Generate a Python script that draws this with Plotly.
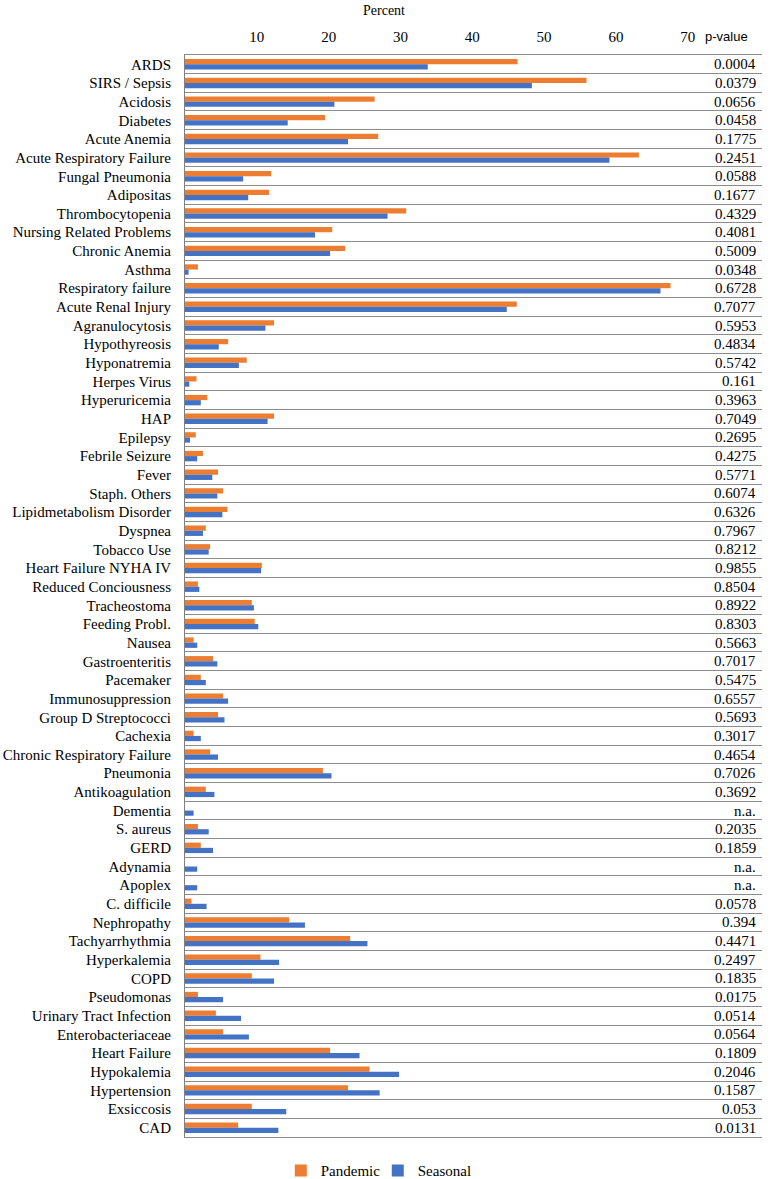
import plotly.graph_objects as go

categories = ["ARDS", "SIRS / Sepsis", "Acidosis", "Diabetes", "Acute Anemia",
              "Acute Respiratory Failure", "Fungal Pneumonia", "Adipositas",
              "Thrombocytopenia", "Nursing Related Problems", "Chronic Anemia",
              "Asthma", "Respiratory failure", "Acute Renal Injury", "Agranulocytosis",
              "Hypothyreosis", "Hyponatremia", "Herpes Virus", "Hyperuricemia", "HAP",
              "Epilepsy", "Febrile Seizure", "Fever", "Staph. Others",
              "Lipidmetabolism Disorder", "Dyspnea", "Tobacco Use",
              "Heart Failure NYHA IV", "Reduced Conciousness", "Tracheostoma",
              "Feeding Probl.", "Nausea", "Gastroenteritis", "Pacemaker",
              "Immunosuppression", "Group D Streptococci", "Cachexia",
              "Chronic Respiratory Failure", "Pneumonia", "Antikoagulation", "Dementia",
              "S. aureus", "GERD", "Adynamia", "Apoplex", "C. difficile", "Nephropathy",
              "Tachyarrhythmia", "Hyperkalemia", "COPD", "Pseudomonas",
              "Urinary Tract Infection", "Enterobacteriaceae", "Heart Failure",
              "Hypokalemia", "Hypertension", "Exsiccosis", "CAD"]

pandemic = [46.3, 55.9, 26.4, 19.5, 26.9, 63.2, 12.0, 11.7, 30.8, 20.5, 22.3,
            1.8, 67.6, 46.2, 12.4, 6.0, 8.6, 1.6, 3.1, 12.4, 1.5, 2.5, 4.6, 5.3,
            5.9, 2.9, 3.5, 10.7, 1.8, 9.3, 9.7, 1.2, 3.9, 2.2, 5.3, 4.6, 1.2, 3.5,
            19.2, 2.9, 0.0, 1.8, 2.2, 0.0, 0.0, 0.9, 14.5, 23.0, 10.5, 9.3, 1.8,
            4.3, 5.3, 20.2, 25.7, 22.7, 9.3, 7.4]

seasonal = [33.8, 48.3, 20.8, 14.3, 22.7, 59.1, 8.1, 8.8, 28.2, 18.1, 20.2,
            0.5, 66.2, 44.8, 11.2, 4.7, 7.5, 0.6, 2.2, 11.5, 0.7, 1.7, 3.8, 4.5,
            5.2, 2.5, 3.3, 10.6, 2.0, 9.6, 10.2, 1.7, 4.5, 2.9, 6.0, 5.5, 2.2, 4.6,
            20.4, 4.1, 1.2, 3.3, 3.9, 1.7, 1.7, 3.0, 16.7, 25.4, 13.1, 12.4, 5.3,
            7.8, 8.9, 24.3, 29.8, 27.1, 14.1, 13.0]

p_values = ["0.0004", "0.0379", "0.0656", "0.0458", "0.1775", "0.2451", "0.0588",
            "0.1677", "0.4329", "0.4081", "0.5009", "0.0348", "0.6728", "0.7077",
            "0.5953", "0.4834", "0.5742", "0.161", "0.3963", "0.7049", "0.2695",
            "0.4275", "0.5771", "0.6074", "0.6326", "0.7967", "0.8212", "0.9855",
            "0.8504", "0.8922", "0.8303", "0.5663", "0.7017", "0.5475", "0.6557",
            "0.5693", "0.3017", "0.4654", "0.7026", "0.3692", "n.a.", "0.2035",
            "0.1859", "n.a.", "n.a.", "0.0578", "0.394", "0.4471", "0.2497",
            "0.1835", "0.0175", "0.0514", "0.0564", "0.1809", "0.2046", "0.1587",
            "0.053", "0.0131"]

x_ticks = [10, 20, 30, 40, 50, 60, 70]

idx = list(range(len(categories)))
SERIF = "Liberation Serif, Times New Roman, serif"
SANS = "Liberation Sans, Arial, sans-serif"

PL, PR = 185, 762  # plot area pixel edges
fig = go.Figure()
fig.add_trace(go.Bar(y=idx, x=pandemic, orientation="h", name="Pandemic",
                     marker=dict(color="#ED7D31", line=dict(width=0))))
fig.add_trace(go.Bar(y=idx, x=seasonal, orientation="h", name="Seasonal",
                     marker=dict(color="#4472C4", line=dict(width=0))))

for i, p in enumerate(p_values):
    fig.add_annotation(x=1, xref="paper", y=i, yref="y", text=p, showarrow=False,
                       xanchor="right", xshift=-4,
                       font=dict(family=SERIF, size=15, color="#000"))

fig.add_annotation(x=(726 - PL) / (PR - PL), xref="paper", y=1, yref="paper",
                   text="p-value", showarrow=False, yanchor="bottom", xanchor="center",
                   yshift=9, font=dict(family=SANS, size=13, color="#000"))

fig.add_annotation(x=(384 - PL) / (PR - PL), xref="paper", y=1, yref="paper",
                   text="Percent", showarrow=False, yanchor="bottom", yshift=35,
                   font=dict(family=SERIF, size=14, color="#000"))

fig.update_layout(
    width=775, height=1179,
    margin=dict(l=PL, r=775 - PR, t=55, b=42, autoexpand=False),
    paper_bgcolor="white", plot_bgcolor="white",
    barmode="group", bargap=0.44, bargroupgap=0,
    showlegend=True,
    legend=dict(orientation="h", x=0.166, xanchor="left", yref="container",
                y=0.007, yanchor="middle", entrywidth=52, entrywidthmode="pixels",
                font=dict(family=SERIF, size=15, color="#000"),
                itemwidth=30, traceorder="normal"),
    xaxis=dict(side="top", range=[0, (PR - 186) / 7.17], tickvals=x_ticks,
               showgrid=False, zeroline=False, showline=True, mirror=True,
               linecolor="#8c8c8c", linewidth=1, ticks="", ticklabelstandoff=6,
               automargin=False,
               tickfont=dict(family=SERIF, size=15, color="#000")),
    yaxis=dict(range=[len(categories) - 0.5, -0.5], tickvals=idx, ticktext=categories,
               showgrid=False, zeroline=False, showline=True, linecolor="#7f7f7f",
               linewidth=1, ticks="", ticklabelstandoff=10, automargin=False,
               tickfont=dict(family=SERIF, size=15, color="#000"),
               minor=dict(tickmode="array", tickvals=[i + 0.5 for i in idx[:-1]],
                          showgrid=True, gridcolor="#8c8c8c", gridwidth=1, ticks="")),
)

fig.write_html("out.html", config={"displayModeBar": False},
               post_script="document.body.style.margin='0';document.body.style.overflow='hidden';")
